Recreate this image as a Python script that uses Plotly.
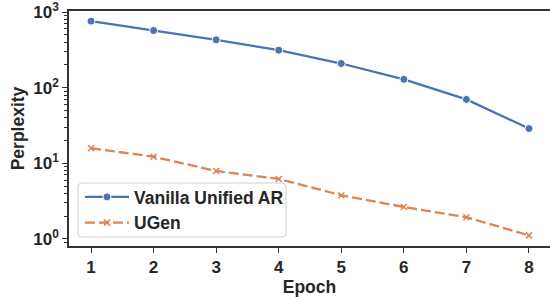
import plotly.graph_objects as go

epochs = [1, 2, 3, 4, 5, 6, 7, 8]
vanilla_ppl = [760, 571, 430, 314, 209, 129, 70, 28.8]
ugen_ppl = [15.8, 12.2, 7.9, 6.2, 3.77, 2.64, 1.93, 1.11]
series_names = ["Vanilla Unified AR", "UGen"]
y_major = [1, 10, 100, 1000]
y_major_text = ["10<sup>0</sup>", "10<sup>1</sup>", "10<sup>2</sup>", "10<sup>3</sup>"]
y_minor = [0.9] + [m * d for d in (1, 10, 100) for m in range(2, 10)]

BLUE = "#4C72B0"
ORANGE = "#DD8452"
AX = "#333333"
TXT = "#262626"
FONT = "Liberation Sans, Arial, sans-serif"

W, H = 550, 300
L, R, T, B = 69, 0, 11, 54
pw, ph = W - L - R, H - T - B
def px(x): return (x - L) / pw
def py(y): return (H - B - y) / ph

fig = go.Figure()
fig.add_trace(go.Scatter(
    x=epochs, y=vanilla_ppl, name=series_names[0], mode="lines+markers",
    line=dict(color=BLUE, width=2.3),
    marker=dict(symbol="circle", size=8, color=BLUE, line=dict(color="white", width=1)),
))
fig.add_trace(go.Scatter(
    x=epochs, y=ugen_ppl, name=series_names[1], mode="lines+markers",
    line=dict(color=ORANGE, width=2.3, dash="10px,4px"),
    marker=dict(symbol="x-thin", size=6, color=ORANGE, line=dict(color=ORANGE, width=1.5)),
))

# rounded legend frame
x0, x1, y0, y1, r = 78, 286, 183, 237, 4
path = (f"M {px(x0+r)},{py(y0)} L {px(x1-r)},{py(y0)} Q {px(x1)},{py(y0)} {px(x1)},{py(y0+r)} "
        f"L {px(x1)},{py(y1-r)} Q {px(x1)},{py(y1)} {px(x1-r)},{py(y1)} "
        f"L {px(x0+r)},{py(y1)} Q {px(x0)},{py(y1)} {px(x0)},{py(y1-r)} "
        f"L {px(x0)},{py(y0+r)} Q {px(x0)},{py(y0)} {px(x0+r)},{py(y0)} Z")
fig.add_shape(type="path", xref="paper", yref="paper", path=path,
              line=dict(color="#D0D0D0", width=1), fillcolor="rgba(255,255,255,0.8)",
              layer="above")

fig.update_layout(
    width=W, height=H,
    margin=dict(l=L, r=R, t=T, b=B, autoexpand=False),
    plot_bgcolor="white", paper_bgcolor="white",
    font=dict(family=FONT, size=17, color=TXT),
    showlegend=True,
    legend=dict(
        x=px(x0 + 2), y=py(y0 - 4), xanchor="left", yanchor="top",
        bgcolor="rgba(0,0,0,0)", borderwidth=0,
        font=dict(family=FONT, size=17.5, color=TXT, weight="bold"),
        tracegroupgap=0, itemwidth=44,
    ),
    xaxis=dict(
        range=[0.648, 8.336], tickvals=epochs, showgrid=False, zeroline=False, automargin=False,
        showline=True, linecolor=AX, linewidth=1.6, mirror=True, ticklabeloverflow="allow",
        ticks="outside", ticklen=5, tickwidth=1.3, tickcolor=AX,
        tickfont=dict(family=FONT, size=17, weight="bold", color=TXT),
        title=dict(text="Epoch", font=dict(family=FONT, size=17.5, weight="bold", color=TXT), standoff=0),
    ),
    yaxis=dict(
        type="log", range=[-0.095, 3.015], tickmode="array", tickvals=y_major, ticktext=y_major_text,
        showgrid=False, zeroline=False, automargin=False, ticklabeloverflow="allow",
        showline=True, linecolor=AX, linewidth=1.6,
        ticks="outside", ticklen=5, tickwidth=1.3, tickcolor=AX,
        tickfont=dict(family=FONT, size=17, weight="bold", color=TXT),
        minor=dict(tickmode="array", tickvals=y_minor, ticks="outside", ticklen=3, tickwidth=1, tickcolor=AX, showgrid=False),
        title=dict(text="Perplexity", font=dict(family=FONT, size=17.5, weight="bold", color=TXT), standoff=4),
    ),
)

fig.write_html("out.html", config={"displayModeBar": False},
               post_script="document.body.style.margin='0px';")
